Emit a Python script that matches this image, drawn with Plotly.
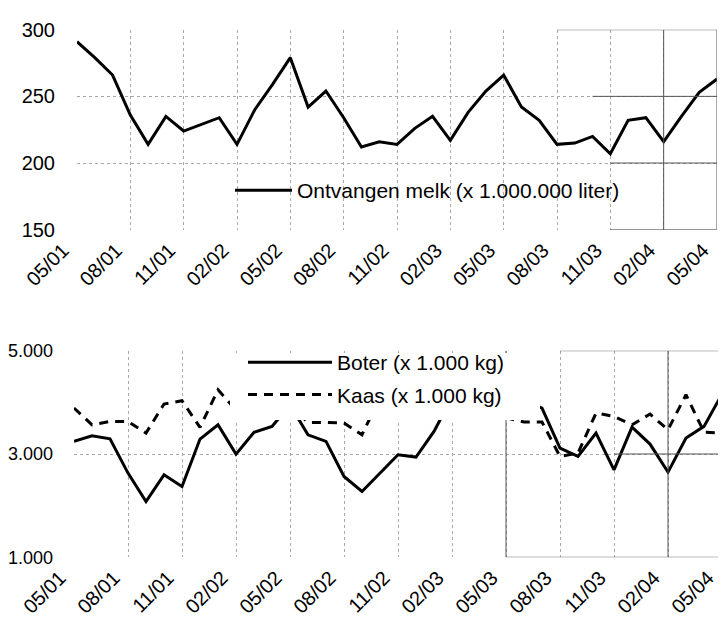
import plotly.graph_objects as go

W, H = 726, 619

months = ["05/01", "06/01", "07/01", "08/01", "09/01", "10/01", "11/01", "12/01",
          "01/02", "02/02", "03/02", "04/02", "05/02", "06/02", "07/02", "08/02",
          "09/02", "10/02", "11/02", "12/02", "01/03", "02/03", "03/03", "04/03",
          "05/03", "06/03", "07/03", "08/03", "09/03", "10/03", "11/03", "12/03",
          "01/04", "02/04", "03/04", "04/04", "05/04"]
tick_labels = months[::3]

melk = [291, 279, 266, 236, 214, 235, 224, 229, 234, 214, 240, 259, 279, 242, 254, 234,
        212, 216, 214, 226, 235, 217, 238, 254, 266, 242, 232, 214, 215, 220, 207, 232,
        234, 216, 235, 253, 263]

boter = [3244, 3353, 3295, 2630, 2081, 2597, 2372, 3289, 3566, 2998, 3419, 3535, 3950, 3372,
         3244, 2566, 2275, 2630, 2985, 2940, 3438, 4100, 4250, 4300, 4200, 4050, 3890, 3115,
         2953, 3405, 2694, 3521, 3192, 2649, 3308, 3535, 4161]

kaas = [3890, 3566, 3630, 3630, 3405, 3967, 4031, 3515, 4244, 3850, 3950, 4000, 3950, 3610,
        3610, 3600, 3372, 4100, 4100, 4050, 4000, 4000, 3950, 3900, 3700, 3620, 3620, 2953,
        3017, 3793, 3729, 3566, 3773, 3469, 4147, 3424, 3405]

FONT = "Liberation Sans, Arial, sans-serif"

fig = go.Figure()
fig.add_trace(go.Scatter(x=months, y=melk, mode="lines", name="Ontvangen melk (x 1.000.000 liter)",
                         line=dict(color="black", width=3), xaxis="x", yaxis="y", legend="legend"))
fig.add_trace(go.Scatter(x=months, y=boter, mode="lines", name="Boter (x 1.000 kg)",
                         line=dict(color="black", width=3), xaxis="x2", yaxis="y2",
                         legend="legend2", legendgroup="b"))
fig.add_trace(go.Scatter(x=months, y=kaas, mode="lines", name="Kaas (x 1.000 kg)",
                         line=dict(color="black", width=3, dash="9px,7px"), xaxis="x2", yaxis="y2",
                         legend="legend2", legendgroup="k"))

grid = dict(showgrid=True, gridcolor="#a8a8a8", griddash="dot", gridwidth=1,
            zeroline=False, showline=False, ticks="")

xcommon = dict(type="category", categoryorder="array", categoryarray=months,
               tickmode="array", tickvals=tick_labels, ticktext=tick_labels,
               tickangle=-45, range=[0, len(months) - 1],
               tickfont=dict(family=FONT, size=20, color="black"), ticklabelstandoff=4,
               ticklabelshift=-14, automargin=False, **grid)

# darker grid segments visible in the right-hand part of the original print
dark = dict(color="#555555", width=1)
shapes = [
    dict(type="line", xref="x", yref="y", x0="02/04", x1="02/04", y0=150, y1=300, line=dark),
    dict(type="line", xref="x", yref="y", x0="05/04", x1="05/04", y0=150, y1=300, line=dark),
    dict(type="line", xref="x", yref="y", x0="10/03", x1="05/04", y0=250, y1=250, line=dark),
    dict(type="line", xref="x", yref="y", x0="11/03", x1="05/04", y0=200, y1=200, line=dark),
    dict(type="line", xref="x", yref="y", x0="11/03", x1="05/04", y0=150, y1=150, line=dark),
    dict(type="line", xref="x", yref="y", x0="08/03", x1="05/04", y0=300, y1=300, line=dark),
    dict(type="line", xref="x2", yref="y2", x0="05/03", x1="05/03", y0=1000, y1=5000, line=dark),
    dict(type="line", xref="x2", yref="y2", x0="02/04", x1="02/04", y0=1000, y1=5000, line=dark),
    dict(type="line", xref="x2", yref="y2", x0="05/04", x1="05/04", y0=1000, y1=5000, line=dark),
    dict(type="line", xref="x2", yref="y2", x0="11/03", x1="05/04", y0=3000, y1=3000, line=dark),
    dict(type="line", xref="x2", yref="y2", x0="05/03", x1="05/04", y0=1000, y1=1000, line=dark),
    dict(type="line", xref="x2", yref="y2", x0="08/03", x1="05/04", y0=5000, y1=5000, line=dark),
    # white legend box of the lower chart, drawn over the lines as in the original
    dict(type="rect", xref="paper", yref="paper", x0=222 / W, x1=532 / W,
         y0=1 - 412 / H, y1=1 - 345 / H, fillcolor="white", line=dict(width=0), layer="above"),
]

fig.update_layout(
    width=W, height=H,
    margin=dict(l=0, r=0, t=0, b=0),
    paper_bgcolor="white", plot_bgcolor="white",
    separators=",.",
    font=dict(family=FONT, size=20, color="black"),
    xaxis=dict(domain=[69 / W, 709 / W], anchor="y", **xcommon),
    yaxis=dict(domain=[1 - 221.7 / H, 1 - 21.7 / H], anchor="x", range=[150, 300], dtick=50,
               tick0=150, tickfont=dict(family=FONT, size=20, color="black"),
               ticklabelstandoff=21, automargin=False, **grid),
    xaxis2=dict(domain=[66 / W, 714 / W], anchor="y2", **xcommon),
    yaxis2=dict(domain=[1 - 549.3 / H, 1 - 342.7 / H], anchor="x2", range=[1000, 5000], dtick=2000,
                tick0=1000, tickformat=",d", tickfont=dict(family=FONT, size=18, color="black"),
                ticklabelstandoff=20, automargin=False, **grid),
    legend=dict(x=222 / W, y=1 - 162 / H, xanchor="left", yanchor="top",
                bgcolor="rgba(255,255,255,0)", borderwidth=0, itemwidth=57,
                font=dict(family=FONT, size=21, color="black")),
    legend2=dict(x=235 / W, y=1 - 334 / H, xanchor="left", yanchor="top",
                 bgcolor="rgba(255,255,255,0)", borderwidth=0, itemwidth=84, tracegroupgap=2,
                 font=dict(family=FONT, size=21, color="black")),
    shapes=shapes,
    showlegend=True,
)

fig.write_html("out.html")
